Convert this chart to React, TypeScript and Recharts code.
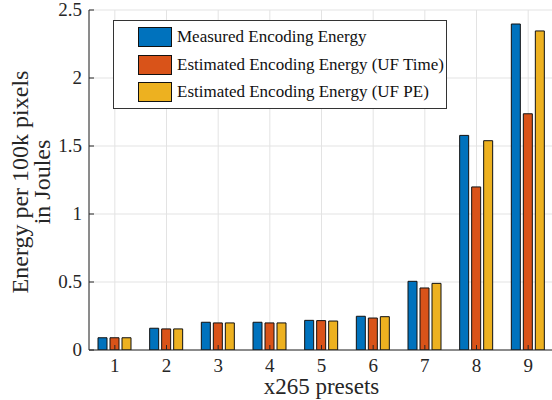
import React from 'react';
import { BarChart, Bar, XAxis, YAxis, CartesianGrid, Legend, Label } from 'recharts';

const categories = ['1', '2', '3', '4', '5', '6', '7', '8', '9'];
const measured = [0.09, 0.16, 0.204, 0.204, 0.218, 0.248, 0.505, 1.578, 2.397];
const ufTime = [0.09, 0.155, 0.199, 0.199, 0.216, 0.235, 0.456, 1.199, 1.737];
const ufPE = [0.09, 0.155, 0.199, 0.199, 0.213, 0.245, 0.49, 1.539, 2.346];
const yTicks = [0, 0.5, 1, 1.5, 2, 2.5];

const seriesNames = [
  'Measured Encoding Energy',
  'Estimated Encoding Energy (UF Time)',
  'Estimated Encoding Energy (UF PE)',
];
const colors = ['#0072BD', '#D95319', '#EDB120'];

const data = categories.map((c, i) => ({
  name: c,
  measured: measured[i],
  ufTime: ufTime[i],
  ufPE: ufPE[i],
}));

const FONT = '"Liberation Serif", "DejaVu Serif", serif';
const AXIS = '#262626';
const textStyle = { fontFamily: FONT };

const LegendBox = (props: any) => {
  const payload = [...(props.payload || [])].sort(
    (a: any, b: any) => seriesNames.indexOf(a.value) - seriesNames.indexOf(b.value)
  );
  return (
    <div
      style={{
        border: '1px solid #333',
        background: '#fff',
        width: 332,
        height: 87,
        boxSizing: 'content-box',
        fontFamily: FONT,
        fontSize: 17,
        color: '#111',
        position: 'relative',
      }}
    >
      {payload.map((p: any, i: number) => (
        <div
          key={i}
          style={{
            position: 'absolute',
            left: 24,
            top: 6 + i * 27.5,
            height: 20,
            display: 'flex',
            alignItems: 'center',
            whiteSpace: 'nowrap',
          }}
        >
          <span
            style={{
              display: 'inline-block',
              width: 32,
              height: 18,
              background: p.color,
              border: '1px solid #111',
              marginRight: 5,
            }}
          />
          <span>{p.value}</span>
        </div>
      ))}
    </div>
  );
};

const EmptyTick = () => <g />;

const XTick = (props: any) => {
  const { x, y, payload } = props;
  return (
    <text x={x} y={y} dy={14} textAnchor="middle" fontSize={19} fill={AXIS} style={textStyle}>
      {payload.value}
    </text>
  );
};

const YTick = (props: any) => {
  const { x, y, payload } = props;
  return (
    <text x={x} y={y} dy={6} textAnchor="end" fontSize={19} fill={AXIS} style={textStyle}>
      {payload.value}
    </text>
  );
};

export default function App() {
  return (
    <div
      style={{
        position: 'fixed',
        left: 0,
        top: 0,
        width: 552,
        height: 400,
        overflow: 'hidden',
        background: '#fff',
        fontFamily: FONT,
      }}
    >
      <BarChart
        width={560}
        height={400}
        data={data}
        margin={{ top: 10, right: 6, bottom: 10, left: 0 }}
        barSize={9}
        barGap={3}
        style={textStyle}
      >
        <CartesianGrid stroke="#e3e3e3" strokeWidth={1} />
        <XAxis
          dataKey="name"
          height={40}
          stroke={AXIS}
          tickSize={-5}
          tickMargin={13}
          tick={<XTick />}
          interval={0}
        >
          <Label
            content={(p: any) => {
              const vb = p.viewBox || {};
              const cx = (vb.x || 0) + (vb.width || 0) / 2;
              return (
                <text x={cx} y={394} textAnchor="middle" fontSize={23} fill={AXIS} style={textStyle}>
                  x265 presets
                </text>
              );
            }}
          />
        </XAxis>
        <XAxis
          xAxisId="top"
          dataKey="name"
          orientation="top"
          height={0}
          stroke={AXIS}
          tickSize={-5}
          tick={EmptyTick}
          interval={0}
        />
        <YAxis
          width={89}
          domain={[0, 2.5]}
          ticks={yTicks}
          stroke={AXIS}
          tickSize={-5}
          tickMargin={12}
          tick={<YTick />}
          allowDataOverflow
        >
          <Label
            content={(p: any) => {
              const vb = p.viewBox || {};
              const cy = (vb.y || 0) + (vb.height || 0) / 2 + 2;
              return (
                <g>
                  <text
                    x={28}
                    y={cy}
                    transform={`rotate(-90, 28, ${cy})`}
                    textAnchor="middle"
                    fontSize={24}
                    fill={AXIS}
                    style={textStyle}
                  >
                    Energy per 100k pixels
                  </text>
                  <text
                    x={50}
                    y={cy}
                    transform={`rotate(-90, 50, ${cy})`}
                    textAnchor="middle"
                    fontSize={24}
                    fill={AXIS}
                    style={textStyle}
                  >
                    in Joules
                  </text>
                </g>
              );
            }}
          />
        </YAxis>
        <YAxis
          yAxisId="right"
          orientation="right"
          width={0}
          domain={[0, 2.5]}
          ticks={yTicks}
          stroke={AXIS}
          tickSize={-5}
          tick={EmptyTick}
          allowDataOverflow
        />
        <Legend
          layout="vertical"
          align="center"
          verticalAlign="middle"
          content={LegendBox}
          wrapperStyle={{ left: 113, top: 20, width: 334, height: 89 }}
        />
        <Bar dataKey="measured" name={seriesNames[0]} fill={colors[0]} stroke="#111" strokeWidth={1} isAnimationActive={false} />
        <Bar dataKey="ufTime" name={seriesNames[1]} fill={colors[1]} stroke="#111" strokeWidth={1} isAnimationActive={false} />
        <Bar dataKey="ufPE" name={seriesNames[2]} fill={colors[2]} stroke="#111" strokeWidth={1} isAnimationActive={false} />
      </BarChart>
    </div>
  );
}
